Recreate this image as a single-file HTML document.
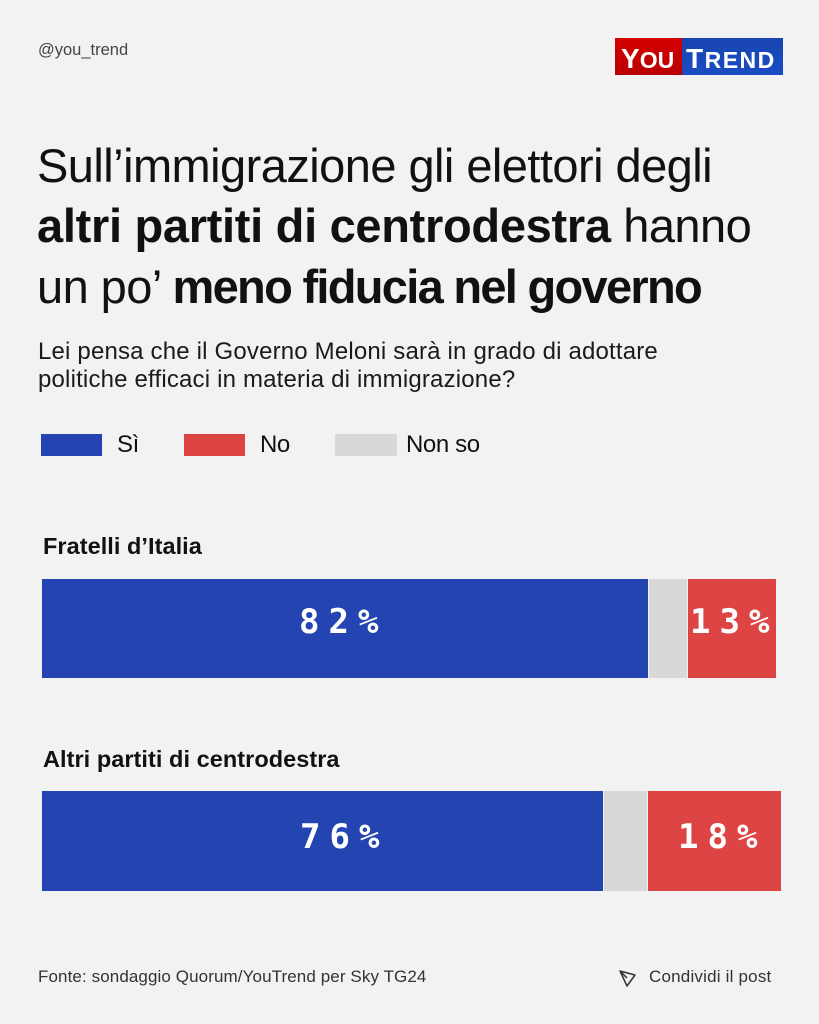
<!DOCTYPE html>
<html><head><meta charset="utf-8">
<style>
html,body{margin:0;padding:0;}
body{width:819px;height:1024px;background:#f2f2f2;position:relative;overflow:hidden;font-family:"Liberation Sans",Arial,sans-serif;color:#111;}
.t{position:absolute;white-space:nowrap;line-height:1;}
.title{font-size:47px;letter-spacing:-0.55px;color:#111;}
.title b{font-weight:700;}
.sub{font-size:24px;letter-spacing:0.18px;color:#1a1a1a;}
.leg{font-size:24px;letter-spacing:-0.4px;color:#111;}
.sw{position:absolute;height:22px;top:434px;width:61px;}
.sec{font-size:23.5px;font-weight:700;letter-spacing:0.05px;color:#111;}
.bar{position:absolute;}
.pct{position:absolute;white-space:nowrap;line-height:1;font-family:"DejaVu Sans Mono","Liberation Mono",monospace;font-weight:700;font-size:34px;letter-spacing:9px;color:#fff;}
.small{font-size:17px;color:#333;letter-spacing:0.1px;}
</style></head>
<body>
<div class="t small" style="left:38px;top:42px;color:#444;font-size:16.5px;letter-spacing:0;">@you_trend</div>

<!-- logo -->
<div style="position:absolute;left:615px;top:38px;width:67px;height:37px;background:linear-gradient(#d60000,#b80000);"></div>
<div style="position:absolute;left:682px;top:38px;width:101px;height:37px;background:linear-gradient(#1746b0,#1c4cc4);"></div>
<div class="t" style="left:621px;top:45px;color:#fff;font-weight:700;font-size:28px;letter-spacing:0px;">Y<span style="font-size:23px;">OU</span></div>
<div class="t" style="left:686px;top:45px;color:#fff;font-weight:700;font-size:28px;letter-spacing:1.5px;">T<span style="font-size:23px;">REND</span></div>

<!-- title -->
<div class="t title" style="left:37px;top:142px;">Sull’immigrazione gli elettori degli</div>
<div class="t title" style="left:37px;top:202px;"><b style="letter-spacing:-0.3px;">altri partiti di centrodestra</b> hanno</div>
<div class="t title" style="left:37px;top:263px;">un po’ <b style="letter-spacing:-1.7px;">meno fiducia nel governo</b></div>

<!-- subtitle -->
<div class="t sub" style="left:38px;top:340px;">Lei pensa che il Governo Meloni sarà in grado di adottare</div>
<div class="t sub" style="left:38px;top:368px;">politiche efficaci in materia di immigrazione?</div>

<!-- legend -->
<div class="sw" style="left:41px;background:#2344b1;"></div>
<div class="t leg" style="left:117px;top:433px;">Sì</div>
<div class="sw" style="left:184px;background:#dd4444;"></div>
<div class="t leg" style="left:260px;top:433px;">No</div>
<div class="sw" style="left:335px;width:62px;background:#d8d8d8;"></div>
<div class="t leg" style="left:406px;top:433px;">Non so</div>

<!-- bar 1 -->
<div class="t sec" style="left:43px;top:535px;">Fratelli d’Italia</div>
<div class="bar" style="left:42px;top:579px;width:606px;height:99px;background:#2344b1;"></div>
<div class="bar" style="left:649px;top:579px;width:38px;height:99px;background:#d8d8d8;"></div>
<div class="bar" style="left:688px;top:579px;width:88px;height:99px;background:#dd4444;"></div>
<div class="pct" style="left:299px;top:605px;">82%</div>
<div class="pct" style="left:690px;top:605px;">13%</div>

<!-- bar 2 -->
<div class="t sec" style="left:43px;top:748px;">Altri partiti di centrodestra</div>
<div class="bar" style="left:42px;top:791px;width:561px;height:100px;background:#2344b1;"></div>
<div class="bar" style="left:604px;top:791px;width:43px;height:100px;background:#d8d8d8;"></div>
<div class="bar" style="left:648px;top:791px;width:133px;height:100px;background:#dd4444;"></div>
<div class="pct" style="left:300px;top:820px;">76%</div>
<div class="pct" style="left:678px;top:820px;">18%</div>

<!-- footer -->
<div class="t small" style="left:38px;top:968px;color:#333;">Fonte: sondaggio Quorum/YouTrend per Sky TG24</div>
<svg style="position:absolute;left:618px;top:969px;" width="19" height="19" viewBox="0 0 19 19">
<path d="M2 2 L17 6 L9 17 Z M2 2 L9 9" fill="none" stroke="#333" stroke-width="1.5" stroke-linejoin="round"/>
</svg>
<div class="t small" style="left:649px;top:968px;color:#333;letter-spacing:0.2px;">Condividi il post</div>
</body></html>
